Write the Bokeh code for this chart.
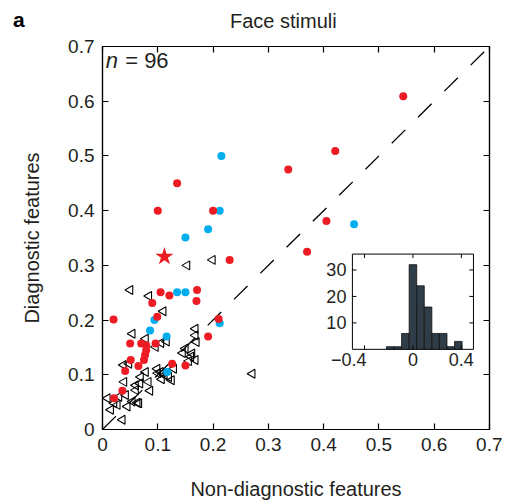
import numpy as np
from bokeh.plotting import figure
from bokeh.layouts import column
from bokeh.models import Range1d, LinearAxis, Label, FixedTicker, ColumnDataSource, Div
from bokeh.core.properties import value
from bokeh.embed import file_html
from bokeh.resources import INLINE

# ---------------- data ----------------
red_x = [0.544, 0.421, 0.336, 0.405, 0.370, 0.135, 0.100, 0.200, 0.230, 0.020,
         0.090, 0.105, 0.121, 0.099, 0.171, 0.170, 0.210, 0.191, 0.050, 0.070,
         0.079, 0.079, 0.096, 0.077, 0.075, 0.051, 0.065, 0.041, 0.126, 0.150,
         0.036, 0.021]
red_y = [0.609, 0.509, 0.475, 0.381, 0.325, 0.450, 0.400, 0.400, 0.310, 0.201,
         0.231, 0.251, 0.245, 0.206, 0.255, 0.235, 0.202, 0.170, 0.157, 0.157,
         0.154, 0.145, 0.157, 0.136, 0.127, 0.127, 0.116, 0.107, 0.120, 0.117,
         0.071, 0.057]
blue_x = [0.215, 0.212, 0.191, 0.150, 0.455, 0.135, 0.150, 0.094, 0.086, 0.116,
          0.117, 0.212]
blue_y = [0.500, 0.400, 0.366, 0.351, 0.375, 0.251, 0.251, 0.200, 0.181, 0.170,
          0.105, 0.194]
star_x = [0.112]
star_y = [0.316]
tri_x = [0.153, 0.199, 0.050, 0.084, 0.110, 0.054, 0.078, 0.116, 0.168, 0.168,
         0.170, 0.106, 0.096, 0.150, 0.162, 0.168, 0.156, 0.038, 0.048, 0.099,
         0.105, 0.112, 0.120, 0.125, 0.129, 0.078, 0.069, 0.060, 0.068, 0.039,
         0.083, 0.086, 0.060, 0.054, 0.066, 0.009, 0.015, 0.027, 0.045, 0.036,
         0.042, 0.021, 0.271, 0.063, 0.160, 0.145, 0.100, 0.107, 0.030]
tri_y = [0.300, 0.310, 0.255, 0.244, 0.216, 0.175, 0.166, 0.161, 0.184, 0.172,
         0.160, 0.158, 0.151, 0.148, 0.139, 0.127, 0.125, 0.118, 0.120, 0.111,
         0.105, 0.099, 0.096, 0.090, 0.111, 0.105, 0.096, 0.081, 0.084, 0.087,
         0.087, 0.071, 0.072, 0.051, 0.048, 0.057, 0.036, 0.045, 0.042, 0.018,
         0.063, 0.048, 0.102, 0.049, 0.133, 0.140, 0.103, 0.092, 0.060]
diag = [0.0, 0.7]
main_ticks = [0.0, 0.1, 0.2, 0.3, 0.4, 0.5, 0.6, 0.7]
main_tick_labels = ["0", "0.1", "0.2", "0.3", "0.4", "0.5", "0.6", "0.7"]

hist_centers = [-0.1875, -0.125, -0.0625, 0.0, 0.0625, 0.125, 0.1875, 0.25, 0.3125, 0.375]
hist_counts = [1, 1, 6, 32, 24, 16, 6, 6, 1, 3]
hist_bin_width = 0.0625
hist_xlim = [-0.5, 0.5]
hist_ylim = [0, 36]
hist_xticks = [-0.4, 0.0, 0.4]
hist_xtick_labels = ["\u22120.4", "0", "0.4"]
hist_yticks = [10, 20, 30]
hist_ytick_labels = ["10", "20", "30"]

panel_letter = "a"
panel_title = "Face stimuli"
n_text = "= 96"

# ---------------- style ----------------
FONT = "Liberation Sans"
TXT = "#231f20"
RED = "#ed1c24"
BLUE = "#00aeef"
HEAD_H = 30

head = Div(text=(
    f'<div style="position:relative;width:500px;height:{HEAD_H}px;'
    f'font-family:\'{FONT}\';color:{TXT};">'
    f'<span style="position:absolute;left:13px;top:8px;font-size:21px;'
    f'font-weight:bold;color:black;line-height:normal;">{panel_letter}</span>'
    f'<span style="position:absolute;left:230px;top:10px;font-size:20px;'
    f'line-height:normal;white-space:nowrap;">{panel_title}</span></div>'),
    width=502, height=HEAD_H, margin=0)

p = figure(width=502, height=472, x_range=Range1d(0, 0.7), y_range=Range1d(0, 0.7),
           output_backend="svg", toolbar_location=None, margin=0,
           min_border_left=102, min_border_right=13, min_border_top=16, min_border_bottom=69)
p.grid.visible = False
p.outline_line_color = "black"
p.outline_line_width = 1.2

for ax in (p.xaxis[0], p.yaxis[0]):
    ax.ticker = FixedTicker(ticks=main_ticks)
    ax.major_label_overrides = {t: l for t, l in zip(main_ticks, main_tick_labels)}
    ax.major_tick_in = 6
    ax.major_tick_out = 0
    ax.minor_tick_line_color = None
    ax.axis_line_width = 1.2
    ax.major_tick_line_width = 1.2
    ax.major_label_text_font = FONT
    ax.major_label_text_font_size = "19px"
    ax.major_label_text_color = TXT
    ax.axis_label_text_font = FONT
    ax.axis_label_text_font_size = "20px"
    ax.axis_label_text_font_style = "normal"
    ax.axis_label_text_color = TXT

p.xaxis.axis_label = "Non-diagnostic features"
p.yaxis.axis_label = "Diagnostic features"
p.xaxis.major_label_standoff = 8
p.yaxis.major_label_standoff = 8
p.xaxis.axis_label_standoff = 24
p.yaxis.axis_label_standoff = 22

for loc in ("above", "right"):
    ax = LinearAxis(ticker=FixedTicker(ticks=main_ticks),
                    major_label_overrides={t: "" for t in main_ticks},
                    major_tick_in=6, major_tick_out=0, major_label_standoff=0,
                    minor_tick_line_color=None, axis_line_width=1.2,
                    major_tick_line_width=1.2, major_label_text_font_size="1px")
    p.add_layout(ax, loc)

# diagonal
p.line(diag, diag, line_color="black", line_width=1.3, line_dash="19 18")

# scatter
p.scatter(tri_x, tri_y, marker="triangle", size=9, angle=np.pi / 2,
          fill_color=None, line_color="black", line_width=1.1)
p.scatter(blue_x, blue_y, marker="circle", size=8, fill_color=BLUE, line_color=None)
p.scatter(red_x, red_y, marker="circle", size=8, fill_color=RED, line_color=None)
p.scatter(star_x, star_y, marker="star", size=19, fill_color=RED, line_color=None)

# ---------------- inset histogram (mapped via extra ranges) ----------------
ix0, ix1 = 0.452, 0.671   # inset frame in main-axis units
iy0, iy1 = 0.1465, 0.3206
sx = (hist_xlim[1] - hist_xlim[0]) / (ix1 - ix0)
sy = (hist_ylim[1] - hist_ylim[0]) / (iy1 - iy0)
p.extra_x_ranges = {"hx": Range1d(hist_xlim[0] - (ix0 - 0.0) * sx,
                                  hist_xlim[0] + (0.7 - ix0) * sx)}
p.extra_y_ranges = {"hy": Range1d(hist_ylim[0] - (iy0 - 0.0) * sy,
                                  hist_ylim[0] + (0.7 - iy0) * sy)}
R = dict(x_range_name="hx", y_range_name="hy")

p.quad(left=[hist_xlim[0]], right=[hist_xlim[1]], bottom=[hist_ylim[0]], top=[hist_ylim[1]],
       fill_color="white", line_color="black", line_width=1.0, **R)
p.vbar(x=hist_centers, width=hist_bin_width, top=hist_counts, bottom=0,
       fill_color="#2e3d48", line_color="#111111", line_width=0.8, **R)

tlx = 4 / 120.0 * (hist_xlim[1] - hist_xlim[0])
tly = 4 / (96.0 / (hist_ylim[1] - hist_ylim[0]))
n = len(hist_xticks)
p.segment(x0=hist_xticks, y0=[hist_ylim[0]] * n, x1=hist_xticks, y1=[hist_ylim[0] + tly] * n,
          line_color="black", line_width=1.0, **R)
p.segment(x0=hist_xticks, y0=[hist_ylim[1]] * n, x1=hist_xticks, y1=[hist_ylim[1] - tly] * n,
          line_color="black", line_width=1.0, **R)
m = len(hist_yticks)
p.segment(x0=[hist_xlim[0]] * m, y0=hist_yticks, x1=[hist_xlim[0] + tlx] * m, y1=hist_yticks,
          line_color="black", line_width=1.0, **R)
p.segment(x0=[hist_xlim[1]] * m, y0=hist_yticks, x1=[hist_xlim[1] - tlx] * m, y1=hist_yticks,
          line_color="black", line_width=1.0, **R)

xs = ColumnDataSource(dict(x=hist_xticks, y=[hist_ylim[0]] * n, t=hist_xtick_labels,
                           a=["right", "center", "center"], o=[2, 0, 0]))
p.text(x="x", y="y", text="t", source=xs, text_align="a", x_offset="o", y_offset=4,
       text_baseline="top", text_font=value(FONT), text_font_size="18px",
       text_color=TXT, **R)
ys = ColumnDataSource(dict(x=[hist_xlim[0]] * m, y=hist_yticks, t=hist_ytick_labels))
p.text(x="x", y="y", text="t", source=ys, text_align="right", x_offset=-6,
       text_baseline="middle", text_font=value(FONT), text_font_size="18px",
       text_color=TXT, **R)

# ---------------- n label ----------------
p.add_layout(Label(x=0.006, y=0.651, text="n", text_font=FONT, text_font_style="italic",
                   text_font_size="22px", text_color=TXT))
p.add_layout(Label(x=0.041, y=0.651, text=n_text, text_font=FONT,
                   text_font_size="22px", text_color=TXT))

layout = column(head, p, spacing=0)
open("out.html", "w").write(file_html(layout, INLINE))
